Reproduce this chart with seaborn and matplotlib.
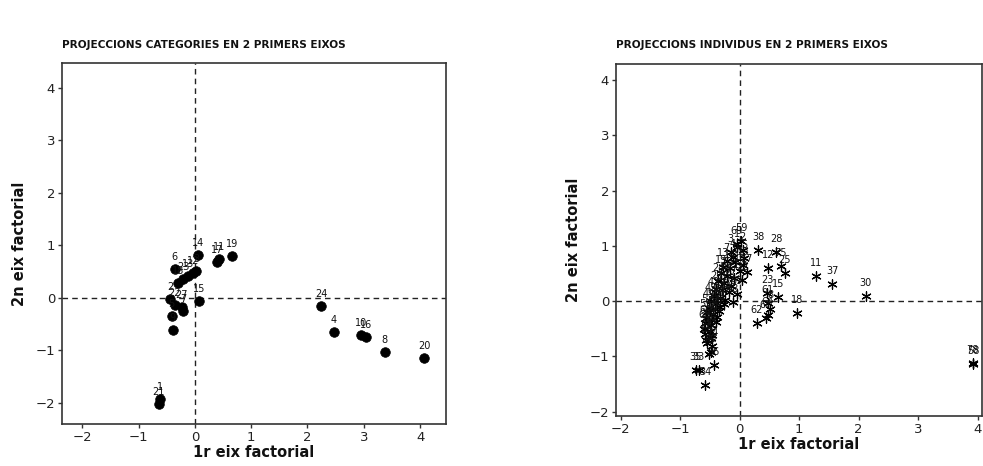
import matplotlib
matplotlib.use("Agg")
import matplotlib.pyplot as plt
import seaborn as sns
import pandas as pd

# ---- Categories (left panel) ----
cat_labels = ["1", "21", "6", "23", "18", "13", "12", "3", "14", "17", "11", "19", "15",
              "2", "22", "27", "7", "5", "9", "24", "4", "10", "16", "8", "20"]
cat_x = [-0.62, -0.64, -0.36, -0.21, -0.30, -0.12, -0.04, 0.02, 0.05, 0.39, 0.43, 0.66, 0.07,
         -0.44, -0.36, -0.23, -0.21, -0.41, -0.39, 2.24, 2.47, 2.95, 3.04, 3.37, 4.07]
cat_y = [-1.92, -2.02, 0.55, 0.36, 0.29, 0.42, 0.47, 0.52, 0.82, 0.68, 0.74, 0.80, -0.05,
         -0.02, -0.13, -0.17, -0.25, -0.34, -0.61, -0.15, -0.65, -0.70, -0.74, -1.03, -1.14]

# ---- Individuals (right panel) ----
ind_labels = ["11", "37", "30", "58", "78", "18", "28", "12", "75", "25", "23", "15",
              "61", "8", "64", "67", "62", "38", "59", "69", "33", "35", "36", "34", "40", "41", "65",
              "1", "2", "3", "4", "5", "7", "9", "10", "13", "14", "16", "17", "19", "20",
              "21", "22", "24", "26", "27", "29", "31", "32", "39", "42", "43", "44", "45",
              "46", "47", "48", "49", "50", "51", "52", "53", "54", "55", "56", "57", "60",
              "63", "66", "68", "70", "71", "72", "73", "74", "76"]
ind_x = [1.29, 1.56, 2.12, 3.93, 3.92, 0.97, 0.61, 0.47, 0.69, 0.76, 0.46, 0.64,
         0.47, 0.51, 0.47, 0.44, 0.29, 0.31, 0.02, -0.05, -0.69, -0.74, -0.44, -0.58, -0.49, -0.47, -0.55,
         -0.05, 0.05, -0.15, -0.12, 0.08, -0.22, -0.08, 0.06, -0.28, -0.16, 0.0, 0.12,
         -0.32, -0.22, -0.10, 0.04, -0.36, -0.26, -0.15, -0.40, -0.30, -0.18, -0.05,
         -0.44, -0.34, -0.24, -0.48, -0.38, -0.27, -0.12, -0.52, -0.42, -0.33,
         -0.55, -0.45, -0.35, -0.57, -0.47, -0.38, -0.58, -0.49, -0.40, -0.60, -0.50,
         -0.58, -0.48, -0.56, -0.46, -0.52]
ind_y = [0.45, 0.31, 0.09, -1.14, -1.12, -0.22, 0.89, 0.60, 0.63, 0.50, 0.14, 0.07,
         -0.04, -0.14, -0.25, -0.31, -0.40, 0.92, 1.08, 1.03, -1.25, -1.25, -1.16, -1.52, -0.92, -0.61, -0.75,
         0.98, 0.92, 0.88, 0.80, 0.78, 0.72, 0.70, 0.65, 0.62, 0.60, 0.55, 0.52,
         0.50, 0.46, 0.42, 0.38, 0.36, 0.32, 0.28, 0.22, 0.20, 0.16, 0.12,
         0.10, 0.06, 0.02, 0.0, -0.04, -0.06, -0.02, -0.12, -0.14, -0.10,
         -0.20, -0.24, -0.18, -0.30, -0.34, -0.28, -0.40, -0.44, -0.38, -0.50, -0.54,
         -0.60, -0.66, -0.70, -0.82, -0.95]

TITLE_LEFT = "PROJECCIONS CATEGORIES EN 2 PRIMERS EIXOS"
TITLE_RIGHT = "PROJECCIONS INDIVIDUS EN 2 PRIMERS EIXOS"
XLABEL = "1r eix factorial"
YLABEL = "2n eix factorial"

sns.set_theme(style="white")
plt.rcParams["font.family"] = ["DejaVu Sans"]

fig = plt.figure(figsize=(9.83, 4.66), dpi=100)
ax1 = fig.add_axes([0.0631, 0.0901, 0.3906, 0.7747])
ax2 = fig.add_axes([0.6267, 0.1073, 0.3720, 0.7554])

cat_df = pd.DataFrame({"x": cat_x, "y": cat_y, "lab": cat_labels})
ind_df = pd.DataFrame({"x": ind_x, "y": ind_y, "lab": ind_labels})

sns.scatterplot(data=cat_df, x="x", y="y", ax=ax1, color="black", s=48,
                edgecolor="black", linewidth=0.5, zorder=3)
sns.scatterplot(data=ind_df, x="x", y="y", ax=ax2, color="black", s=45,
                marker=(6, 2, 0), linewidth=0.9, zorder=3)

for ax, df, off in [(ax1, cat_df, 5), (ax2, ind_df, 6)]:
    for _, r in df.iterrows():
        ax.annotate(r["lab"], (r["x"], r["y"]), xytext=(0, off), textcoords="offset points",
                    ha="center", va="bottom", fontsize=7, color="#111111", zorder=4)
    ax.axhline(0, color="#222222", lw=1.0, ls=(0, (4, 3)), zorder=1)
    ax.axvline(0, color="#222222", lw=1.0, ls=(0, (4, 3)), zorder=1)
    for sp in ax.spines.values():
        sp.set_color("#333333")
        sp.set_linewidth(1.2)
    ax.tick_params(axis="both", which="both", direction="out", length=3, width=1,
                   color="#333333", labelsize=9.5, labelcolor="#222222", pad=2,
                   bottom=True, left=True)
    ax.set_xlabel(XLABEL, fontsize=10.5, fontweight="bold", color="#111111", labelpad=1)
    ax.set_ylabel(YLABEL, fontsize=10.5, fontweight="bold", color="#111111", labelpad=6)
    ax.set_xticks([-2, -1, 0, 1, 2, 3, 4])
    ax.set_yticks([-2, -1, 0, 1, 2, 3, 4])
    ax.grid(False)

ax1.set_xlim(-2.36, 4.46)
ax1.set_ylim(-2.40, 4.47)
ax2.set_xlim(-2.08, 4.07)
ax2.set_ylim(-2.08, 4.29)

fig.text(0.063, 0.903, TITLE_LEFT, fontsize=7.6, fontweight="bold", color="#111111", va="center")
fig.text(0.627, 0.903, TITLE_RIGHT, fontsize=7.6, fontweight="bold", color="#111111", va="center")

fig.savefig("out.png", dpi=100, facecolor="white")
